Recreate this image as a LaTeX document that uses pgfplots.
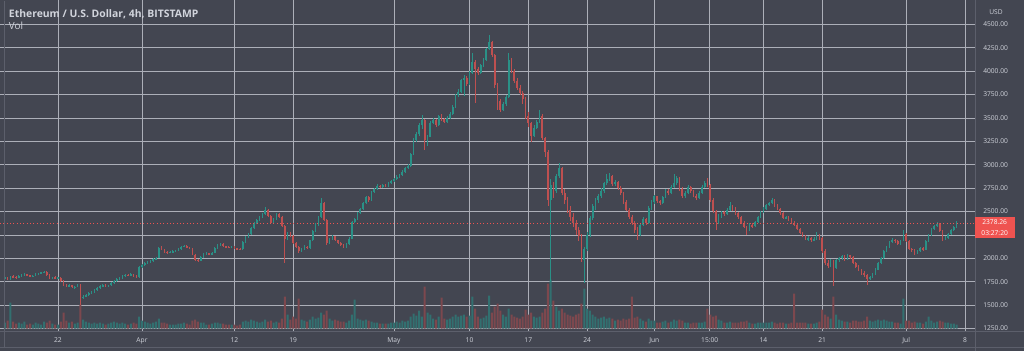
\documentclass[border=0pt]{standalone}
\usepackage{fontspec}
\setmainfont{Open Sans}
\usepackage{pgfplots}
\usepackage{pgfplotstable}
\pgfplotsset{compat=1.18}
\definecolor{bg}{RGB}{67,70,81}
\definecolor{gridc}{RGB}{172,175,184}
\definecolor{sepc}{RGB}{92,95,107}
\definecolor{upc}{RGB}{42,145,135}
\definecolor{dnc}{RGB}{190,80,80}
\definecolor{vup}{RGB}{50,112,112}
\definecolor{vdn}{RGB}{125,72,78}
\definecolor{txt}{RGB}{209,212,220}
\definecolor{lred}{RGB}{239,83,80}

% 8h candles from 15 Mar 16:00 (index 0) to 7 Jul 00:00; x = 14.667 + index/3 (days since 1 Mar)
\pgfplotstableread{
o h l c v
1785 1810 1772 1795 6
1795 1802 1770 1780 8
1780 1815 1768 1805 26
1805 1818 1790 1800 7
1800 1808 1782 1790 5
1790 1820 1786 1812 6
1812 1832 1805 1825 5
1825 1842 1815 1830 7
1830 1836 1810 1818 4
1818 1824 1798 1808 5
1808 1822 1800 1815 4
1815 1838 1810 1830 6
1830 1848 1822 1842 5
1842 1856 1835 1850 4
1850 1868 1840 1858 7
1858 1862 1812 1820 6
1820 1828 1775 1785 8
1785 1802 1778 1795 5
1795 1806 1782 1790 4
1790 1800 1780 1792 4
1792 1798 1750 1760 7
1760 1768 1700 1710 16
1710 1722 1690 1702 8
1702 1728 1698 1715 6
1715 1720 1680 1690 7
1690 1705 1675 1695 5
1695 1730 1690 1718 6
1718 1725 1500 1580 24
1580 1605 1560 1590 9
1590 1622 1582 1610 7
1610 1640 1600 1625 6
1625 1650 1615 1640 5
1640 1670 1632 1662 6
1662 1690 1650 1680 5
1680 1710 1672 1700 6
1700 1725 1692 1715 5
1715 1722 1690 1700 4
1700 1720 1695 1712 5
1712 1745 1705 1735 6
1735 1770 1728 1760 7
1760 1792 1752 1782 6
1782 1800 1770 1790 5
1790 1822 1782 1812 6
1812 1835 1805 1822 5
1822 1830 1808 1818 4
1818 1838 1812 1828 5
1828 1834 1802 1812 6
1812 1820 1788 1798 5
1798 1915 1792 1905 12
1905 1940 1895 1925 8
1925 1958 1915 1945 7
1945 1972 1935 1962 6
1962 1985 1950 1975 5
1975 2000 1965 1990 6
1990 2015 1980 2005 7
2005 2125 2000 2110 10
2110 2130 2085 2095 6
2095 2102 2060 2070 6
2070 2080 2050 2060 5
2060 2078 2052 2068 4
2068 2085 2060 2075 4
2075 2092 2066 2082 4
2082 2110 2075 2100 5
2100 2135 2092 2125 5
2125 2145 2118 2132 6
2132 2138 2105 2115 5
2115 2122 2098 2108 4
2108 2112 2030 2040 8
2040 2048 1970 1985 9
1985 1995 1960 1975 7
1975 2020 1970 2010 6
2010 2055 2002 2045 6
2045 2062 2035 2052 4
2052 2058 2032 2040 4
2040 2068 2035 2060 5
2060 2120 2055 2110 6
2110 2150 2100 2140 6
2140 2162 2130 2152 5
2152 2158 2118 2128 5
2128 2135 2112 2120 4
2120 2128 2105 2115 4
2115 2135 2108 2125 4
2125 2130 2100 2108 4
2108 2115 2092 2100 3
2100 2108 2085 2095 4
2095 2180 2090 2170 7
2170 2235 2160 2225 8
2225 2270 2215 2260 7
2260 2330 2250 2320 9
2320 2385 2310 2375 8
2375 2420 2362 2410 7
2410 2455 2398 2445 6
2445 2482 2430 2470 7
2470 2550 2460 2515 9
2515 2525 2440 2450 7
2450 2460 2370 2380 8
2380 2430 2372 2420 6
2420 2485 2410 2472 7
2472 2480 2430 2440 6
2440 2448 2330 2340 10
2340 2352 1950 2210 32
2210 2285 2195 2270 14
2270 2280 2225 2240 9
2240 2250 2150 2160 12
2160 2175 2105 2120 10
2120 2130 2060 2080 30
2080 2110 2070 2095 9
2095 2140 2085 2125 8
2125 2135 2095 2110 7
2110 2200 2100 2190 9
2190 2300 2180 2290 12
2290 2372 2280 2360 10
2360 2452 2350 2440 11
2440 2640 2430 2590 16
2590 2600 2395 2410 14
2410 2420 2140 2160 18
2160 2215 2150 2200 10
2200 2250 2190 2235 8
2235 2242 2180 2190 9
2190 2200 2150 2165 8
2165 2170 2128 2140 7
2140 2150 2110 2125 7
2125 2160 2115 2150 6
2150 2222 2145 2210 8
2210 2400 2205 2390 14
2390 2432 2375 2420 29
2420 2490 2410 2480 10
2480 2542 2470 2530 9
2530 2600 2520 2590 8
2590 2665 2580 2655 9
2655 2670 2600 2620 8
2620 2718 2610 2705 7
2705 2752 2695 2740 6
2740 2788 2730 2775 6
2775 2782 2748 2760 5
2760 2795 2752 2785 5
2785 2792 2760 2770 5
2770 2812 2762 2800 5
2800 2835 2790 2825 6
2825 2862 2815 2850 6
2850 2885 2838 2870 7
2870 2902 2858 2890 6
2890 2940 2880 2925 8
2925 2975 2915 2960 7
2960 3005 2950 2990 8
2990 3125 2980 3110 12
3110 3280 3100 3260 15
3260 3350 3240 3330 13
3330 3440 3310 3420 18
3420 3530 3380 3480 12
3480 3490 3160 3260 42
3260 3320 3200 3300 16
3300 3465 3290 3450 14
3450 3500 3430 3480 10
3480 3490 3400 3420 9
3420 3535 3410 3520 12
3520 3545 3470 3490 31
3490 3500 3440 3460 10
3460 3515 3450 3500 9
3500 3560 3485 3540 10
3540 3635 3530 3620 12
3620 3755 3610 3740 14
3740 3810 3720 3780 12
3780 3915 3770 3900 13
3900 3960 3730 3930 14
3930 3945 3840 3860 12
3860 3995 3850 3980 13
3980 4190 3970 4100 32
4100 4120 3660 4020 20
4020 4045 3960 3980 12
3980 4075 3965 4060 10
4060 4135 4045 4120 11
4120 4250 4110 4230 13
4230 4385 4220 4310 33
4310 4320 4150 4170 16
4170 4180 3820 3850 22
3850 3870 3580 3680 25
3680 3700 3560 3580 18
3580 3670 3570 3650 14
3650 3740 3630 3720 12
3720 4190 3710 4120 20
4120 4140 3980 4000 14
4000 4020 3870 3890 12
3890 3930 3800 3820 11
3820 3850 3740 3760 10
3760 3790 3650 3700 12
3700 3720 3490 3520 19
3520 3560 3400 3440 14
3440 3460 3240 3310 16
3310 3420 3290 3390 12
3390 3480 3380 3460 11
3460 3580 3440 3520 12
3520 3540 3260 3280 16
3280 3300 3080 3130 20
3130 3160 2560 2620 45
2620 2850 1750 2780 49
2780 2820 2640 2720 28
2720 2900 2700 2880 22
2880 3020 2860 2960 18
2960 2980 2680 2700 20
2700 2740 2580 2620 16
2620 2650 2480 2520 14
2520 2560 2400 2440 13
2440 2480 2330 2380 12
2380 2410 2250 2300 14
2300 2330 2180 2240 15
2240 2260 1960 1980 25
1980 2120 1735 2100 40
2100 2280 2080 2250 20
2250 2450 2230 2430 18
2430 2580 2410 2560 14
2560 2640 2520 2620 12
2620 2690 2590 2660 10
2660 2750 2640 2720 11
2720 2820 2700 2800 12
2800 2900 2780 2850 10
2850 2915 2830 2880 11
2880 2890 2770 2790 10
2790 2840 2770 2820 8
2820 2830 2730 2750 9
2750 2770 2680 2700 8
2700 2710 2580 2600 10
2600 2620 2500 2520 9
2520 2540 2420 2440 10
2440 2460 2360 2380 32
2380 2400 2270 2300 11
2300 2330 2200 2250 12
2250 2380 2240 2360 10
2360 2440 2340 2420 8
2420 2430 2360 2380 7
2380 2560 2370 2540 10
2540 2620 2520 2600 8
2600 2680 2580 2660 8
2660 2670 2590 2610 6
2610 2625 2570 2590 6
2590 2670 2580 2650 7
2650 2740 2640 2720 8
2720 2735 2680 2700 6
2700 2780 2690 2760 7
2760 2900 2750 2800 9
2800 2880 2780 2860 8
2860 2870 2720 2740 9
2740 2760 2640 2660 8
2660 2720 2640 2700 6
2700 2780 2690 2760 6
2760 2775 2700 2720 5
2720 2730 2650 2670 6
2670 2685 2620 2640 6
2640 2720 2630 2700 6
2700 2780 2690 2760 6
2760 2830 2750 2800 7
2800 2860 2760 2780 20
2780 2790 2600 2620 14
2620 2640 2480 2500 12
2500 2520 2300 2390 13
2390 2470 2370 2450 9
2450 2510 2430 2490 8
2490 2500 2450 2470 6
2470 2540 2460 2520 6
2520 2600 2510 2560 7
2560 2570 2510 2530 6
2530 2545 2465 2480 6
2480 2495 2420 2440 6
2440 2455 2370 2380 7
2380 2395 2320 2330 7
2330 2345 2250 2300 8
2300 2380 2290 2360 6
2360 2375 2320 2340 5
2340 2400 2330 2390 5
2390 2450 2380 2440 6
2440 2500 2430 2490 6
2490 2545 2480 2530 6
2530 2585 2520 2570 6
2570 2605 2555 2590 6
2590 2640 2575 2620 7
2620 2630 2545 2560 6
2560 2575 2515 2530 5
2530 2540 2465 2480 6
2480 2495 2420 2430 6
2430 2455 2415 2440 5
2440 2450 2395 2410 5
2410 2430 2370 2380 6
2380 2400 2345 2360 35
2360 2370 2300 2310 6
2310 2325 2260 2270 6
2270 2285 2230 2240 6
2240 2250 2190 2200 6
2200 2240 2185 2220 5
2220 2230 2170 2190 5
2190 2225 2180 2210 5
2210 2280 2200 2250 6
2250 2260 2200 2220 7
2220 2230 2060 2080 19
2080 2095 1930 1950 14
1950 1985 1900 1920 12
1920 1990 1905 1970 10
1970 1985 1700 1900 32
1900 1990 1890 1980 14
1980 2010 1960 2000 9
2000 2035 1985 2020 8
2020 2030 1975 1990 7
1990 2045 1980 2030 7
2030 2040 1995 2010 6
2010 2020 1935 1950 8
1950 1965 1895 1910 8
1910 1925 1860 1870 7
1870 1885 1825 1840 7
1840 1860 1800 1820 8
1820 1830 1720 1780 12
1780 1815 1765 1800 8
1800 1845 1790 1830 7
1830 1895 1820 1880 8
1880 1960 1870 1950 9
1950 2015 1940 2000 8
2000 2090 1990 2080 9
2080 2135 2070 2120 8
2120 2185 2110 2170 7
2170 2215 2160 2200 7
2200 2210 2165 2180 6
2180 2190 2140 2150 6
2150 2200 2140 2190 5
2190 2300 2180 2260 30
2260 2275 2170 2180 8
2180 2190 2090 2100 8
2100 2115 2070 2090 6
2090 2100 2040 2060 7
2060 2090 2050 2080 6
2080 2120 2070 2110 6
2110 2120 2080 2090 5
2090 2190 2085 2180 7
2180 2260 2170 2250 12
2250 2320 2240 2310 8
2310 2355 2300 2340 6
2340 2390 2330 2370 7
2370 2380 2280 2290 8
2290 2300 2180 2200 7
2200 2235 2190 2220 6
2220 2270 2210 2260 6
2260 2310 2250 2300 5
2300 2340 2290 2330 5
2330 2400 2320 2378.26 4
}\eth

\pgfplotsset{
  base/.style={at={(0pt,15pt)}, anchor=south west, width=731.25pt, height=248.25pt,
    scale only axis, xmin=14.094, xmax=130.19},
}

\begin{document}
\begin{tikzpicture}
\fill[bg] (0,0) rectangle (768pt,263.25pt);
% grid and scales
\begin{axis}[base, ymin=1224, ymax=4759,
  axis line style={draw=none},
  xtick={21,31,42,49,61,70,77,84,92,98.6,105,112,122,129},
  xticklabels={22,Apr,12,19,May,10,17,24,Jun,15:00,14,21,Jul,8},
  ytick={1250,1500,1750,2000,2250,2500,2750,3000,3250,3500,3750,4000,4250,4500},
  yticklabels={1250.00,1500.00,1750.00,2000.00,2250.00,2500.00,2750.00,3000.00,3250.00,3500.00,3750.00,4000.00,4250.00,4500.00},
  grid=major, major grid style={gridc, line width=0.55pt},
  major tick length=0pt,
  yticklabel pos=right,
  ticklabel style={font=\fontsize{5}{6}\selectfont, text=txt},
  yticklabel style={anchor=west, inner sep=0pt, xshift=6pt},
  xticklabel style={anchor=base, inner sep=0pt, yshift=-8.6pt},
]
\end{axis}
% volume
\begin{axis}[base, ymin=-2.3, ymax=328.7, hide axis, ybar, bar width=1.5pt, bar shift=0pt]
\addplot[fill=vup, draw=none] table[x expr=14.667+\coordindex/3, y expr={(\thisrow{c}>=\thisrow{o})*\thisrow{v}}] {\eth};
\addplot[fill=vdn, draw=none] table[x expr=14.667+\coordindex/3, y expr={(\thisrow{c}<\thisrow{o})*\thisrow{v}}] {\eth};
\end{axis}
% candles
\begin{axis}[base, ymin=1224, ymax=4759, hide axis]
\addplot[draw=none, mark=none, error bars/.cd, y dir=both, y explicit, error mark=none,
  error bar style={draw=upc, line width=0.5pt}]
  table[x expr=14.667+\coordindex/3, y expr={(\thisrow{h}+\thisrow{l})/2-50000*(\thisrow{c}<\thisrow{o})},
        y error expr={(\thisrow{h}-\thisrow{l})/2}] {\eth};
\addplot[draw=none, mark=none, error bars/.cd, y dir=both, y explicit, error mark=none,
  error bar style={draw=dnc, line width=0.5pt}]
  table[x expr=14.667+\coordindex/3, y expr={(\thisrow{h}+\thisrow{l})/2-50000*(\thisrow{c}>=\thisrow{o})},
        y error expr={(\thisrow{h}-\thisrow{l})/2}] {\eth};
\addplot[draw=none, mark=none, error bars/.cd, y dir=both, y explicit, error mark=none,
  error bar style={draw=upc, line width=1.25pt}]
  table[x expr=14.667+\coordindex/3, y expr={(\thisrow{o}+\thisrow{c})/2-50000*(\thisrow{c}<\thisrow{o})},
        y error expr={max(abs(\thisrow{c}-\thisrow{o})/2,4)}] {\eth};
\addplot[draw=none, mark=none, error bars/.cd, y dir=both, y explicit, error mark=none,
  error bar style={draw=dnc, line width=1.25pt}]
  table[x expr=14.667+\coordindex/3, y expr={(\thisrow{o}+\thisrow{c})/2-50000*(\thisrow{c}>=\thisrow{o})},
        y error expr={max(abs(\thisrow{c}-\thisrow{o})/2,4)}] {\eth};
\addplot[lred, dotted, line width=0.5pt] coordinates {(14.094,2378.26) (130.19,2378.26)};
\end{axis}
% pane separators and clipped lower label
\fill[bg] (731.25pt,0pt) rectangle (768pt,15pt);
\draw[sepc, line width=0.6pt] (0pt,15pt) -- (768pt,15pt);
\draw[sepc, line width=0.6pt] (731.6pt,0pt) -- (731.6pt,263.25pt);
\draw[sepc, line width=0.6pt] (3pt,3pt) -- (3pt,262.5pt);
\draw[sepc, line width=0.6pt] (0pt,3pt) -- (768pt,3pt);
% texts
\node[anchor=west, inner sep=0pt, text=txt, font=\fontsize{7.8}{9}\selectfont\bfseries] at (6.5pt,252.6pt) {Ethereum / U.S. Dollar, 4h, BITSTAMP};
\node[anchor=west, inner sep=0pt, text=txt, font=\fontsize{7.4}{9}\selectfont] at (6.5pt,244.0pt) {Vol};
\node[inner sep=0pt, text=txt, font=\fontsize{5}{6}\selectfont] at (747pt,254.25pt) {USD};
\fill[lred] (731.2pt,84.75pt) rectangle (761.25pt,100.7pt);
\node[inner sep=0pt, text=white, font=\fontsize{5}{6}\selectfont] at (746pt,96.5pt) {2378.26};
\node[inner sep=0pt, text=white, font=\fontsize{5}{6}\selectfont] at (746pt,88.6pt) {03:27:20};
\pgfresetboundingbox
\useasboundingbox (0,0) rectangle (768pt,263.25pt);
\end{tikzpicture}
\end{document}
